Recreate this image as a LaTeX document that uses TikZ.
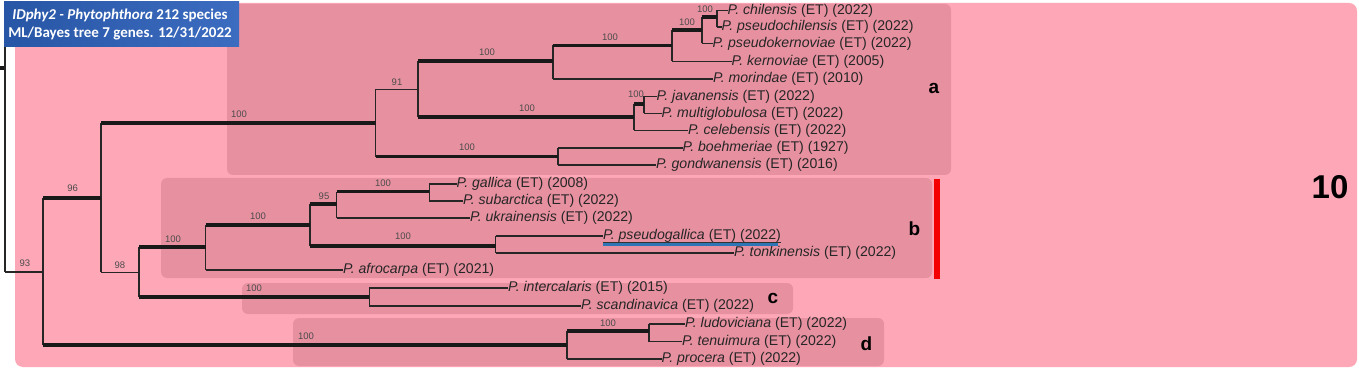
\documentclass[tikz,border=0pt]{standalone}
\usepackage{fontspec}
\setmainfont{Liberation Sans}
\newfontfamily\carl{Carlito}
\definecolor{outerpink}{RGB}{254,167,183}
\definecolor{innerpink}{RGB}{231,144,160}
\definecolor{tblueL}{RGB}{40,86,166}
\definecolor{tblueR}{RGB}{60,108,192}
\definecolor{ulblue}{RGB}{46,117,182}
\definecolor{redbar}{RGB}{245,0,0}
\newcommand{\spname}[2]{\textit{P. #1} (ET) (#2)}
\begin{document}
\begin{tikzpicture}[x=1pt,y=-1pt,
  thn/.style={line width=1.1pt, draw=black!85},
  thk/.style={line width=3.6pt, draw=black!90},
  leaf/.style={anchor=west, inner sep=0pt, font=\fontsize{14.1}{16}\selectfont, text=black!85},
  bs/.style={inner sep=0pt, font=\fontsize{9.5}{10}\selectfont, text=black!70},
  cladelab/.style={inner sep=0pt, font=\fontsize{19}{20}\selectfont\bfseries},
  cbox/.style={fill=innerpink, rounded corners=6pt}]
\useasboundingbox (0,0) rectangle (1359,371);
\fill[white] (0,0) rectangle (1359,371);
% background boxes
\fill[outerpink, rounded corners=8pt] (15,3) rectangle (1357,367);
\fill[cbox] (227,4) rectangle (951,175);
\fill[cbox] (161,178) rectangle (932,278);
\fill[cbox] (242,283) rectangle (793,314);
\fill[cbox] (293,318) rectangle (884,366);
\fill[redbar] (934,179) rectangle (940,279);

% leaves
\node[leaf] (chil)  at (727.5,10.5) {\spname{chilensis}{2022}};
\node[leaf] (pchil) at (721.5,27)   {\spname{pseudochilensis}{2022}};
\node[leaf] (pkern) at (712.5,43.5) {\spname{pseudokernoviae}{2022}};
\node[leaf] (kern)  at (731.5,61.5) {\spname{kernoviae}{2005}};
\node[leaf] (mor)   at (713,79)     {\spname{morindae}{2010}};
\node[leaf] (jav)   at (656.5,96.5) {\spname{javanensis}{2022}};
\node[leaf] (mult)  at (661.5,113.5){\spname{multiglobulosa}{2022}};
\node[leaf] (cel)   at (688,130.5)  {\spname{celebensis}{2022}};
\node[leaf] (boeh)  at (682.5,148)  {\spname{boehmeriae}{1927}};
\node[leaf] (gond)  at (656,165)    {\spname{gondwanensis}{2016}};
\node[leaf] (gall)  at (456.5,184)  {\spname{gallica}{2008}};
\node[leaf] (suba)  at (463,201)    {\spname{subarctica}{2022}};
\node[leaf] (ukr)   at (470,218)    {\spname{ukrainensis}{2022}};
\node[leaf] (pgal)  at (603,236)    {\spname{pseudogallica}{2022}};
\node[leaf] (tonk)  at (734,253)    {\spname{tonkinensis}{2022}};
\node[leaf] (afro)  at (343,270)    {\spname{afrocarpa}{2021}};
\node[leaf] (inter) at (508,288)    {\spname{intercalaris}{2015}};
\node[leaf] (scan)  at (581,306)    {\spname{scandinavica}{2022}};
\node[leaf] (ludo)  at (685,324)    {\spname{ludoviciana}{2022}};
\node[leaf] (tenu)  at (682,341.5)  {\spname{tenuimura}{2022}};
\node[leaf] (proc)  at (661.5,359)  {\spname{procera}{2022}};

% underline of pseudogallica
\draw[black!80, line width=0.8pt] ([yshift=-2.3pt]pgal.base west) -- ([yshift=-2.3pt]pgal.base east);
\draw[ulblue, line width=2.8pt] ([yshift=-5pt]pgal.base west) -- ([yshift=-5pt,xshift=-3pt]pgal.base east);

% internal nodes
\coordinate (Rin) at (0,68.3);
\coordinate (R) at (5,68.3);
\coordinate (Rtop) at (5,47);
\coordinate (N93) at (43,272);
\coordinate (N96) at (101,198);
\coordinate (Nd) at (567,345);
\coordinate (Na) at (375.5,123.3);
\coordinate (N98) at (139,272.3);
\coordinate (N91) at (418,89.3);
\coordinate (Nbg) at (558,156.7);
\coordinate (N1) at (553,61);
\coordinate (Njc) at (634,117.3);
\coordinate (N2) at (672,45.5);
\coordinate (N3) at (702,30);
\coordinate (N4) at (717,17);
\coordinate (N5) at (644,104);
\coordinate (Nb) at (205.7,247.3);
\coordinate (Nc) at (369.3,296.7);
\coordinate (N6) at (310,225);
\coordinate (N95) at (336.7,204.3);
\coordinate (N7) at (495.7,246);
\coordinate (N8) at (429.3,191.7);
\coordinate (N9) at (649,331);

% root stub
\draw[thk] (Rin) -- (R);
\draw[thn] (Rtop) -- (R |- N93);
\draw[thn] (R |- N93) -- (N93);

% vertical lines
\draw[thn] (N93 |- N96) -- (N93 |- Nd);
\draw[thn] (N96 |- Na) -- (N96 |- N98);
\draw[thn] (Na |- N91) -- (Na |- Nbg);
\draw[thn] (N91 |- N1) -- (N91 |- Njc);
\draw[thn] (N1 |- N2) -- (N1 |- mor.west);
\draw[thn] (N2 |- N3) -- (N2 |- kern.west);
\draw[thn] (N3 |- N4) -- (N3 |- pkern.west);
\draw[thn] (N4 |- chil.west) -- (N4 |- pchil.west);
\draw[thn] (Njc |- N5) -- (Njc |- cel.west);
\draw[thn] (N5 |- jav.west) -- (N5 |- mult.west);
\draw[thn] (Nbg |- boeh.west) -- (Nbg |- gond.west);
\draw[thn] (N98 |- Nb) -- (N98 |- Nc);
\draw[thn] (Nb |- N6) -- (Nb |- afro.west);
\draw[thn] (N6 |- N95) -- (N6 |- N7);
\draw[thn] (N95 |- N8) -- (N95 |- ukr.west);
\draw[thn] (N8 |- gall.west) -- (N8 |- suba.west);
\draw[thn] (N7 |- pgal.west) -- (N7 |- tonk.west);
\draw[thn] (Nc |- inter.west) -- (Nc |- scan.west);
\draw[thn] (Nd |- N9) -- (Nd |- proc.west);
\draw[thn] (N9 |- ludo.west) -- (N9 |- tenu.west);

% horizontal branches: thick (supported)
\draw[thk] (N93 |- N96) -- (N96);
\draw[thk] (N93 |- Nd) -- (Nd);
\draw[thk] (N96 |- Na) -- (Na);
\draw[thk] (Na |- Nbg) -- (Nbg);
\draw[thk] (N91 |- N1) -- (N1);
\draw[thk] (N91 |- Njc) -- (Njc);
\draw[thk] (N1 |- N2) -- (N2);
\draw[thk] (N2 |- N3) -- (N3);
\draw[thk] (N3 |- N4) -- (N4);
\draw[thk] (Njc |- N5) -- (N5);
\draw[thk] (N98 |- Nb) -- (Nb);
\draw[thk] (N98 |- Nc) -- (Nc);
\draw[thk] (Nb |- N6) -- (N6);
\draw[thk] (N6 |- N95) -- (N95);
\draw[thk] (N6 |- N7) -- (N7);
\draw[thk] (N95 |- N8) -- (N8);
\draw[thk] (Nd |- N9) -- (N9);

% horizontal branches: thin
\draw[thn] (N96 |- N98) -- (N98);
\draw[thn] (Na |- N91) -- (N91);
\draw[thn] (N1 |- mor.west) -- (mor.west);
\draw[thn] (N2 |- kern.west) -- (kern.west);
\draw[thn] (N3 |- pkern.west) -- (pkern.west);
\draw[thn] (N4 |- chil.west) -- (chil.west);
\draw[thn] (N4 |- pchil.west) -- (pchil.west);
\draw[thn] (Njc |- cel.west) -- (cel.west);
\draw[thn] (N5 |- jav.west) -- (jav.west);
\draw[thn] (N5 |- mult.west) -- (mult.west);
\draw[thn] (Nbg |- boeh.west) -- (boeh.west);
\draw[thn] (Nbg |- gond.west) -- (gond.west);
\draw[thn] (Nb |- afro.west) -- (afro.west);
\draw[thn] (N95 |- ukr.west) -- (ukr.west);
\draw[thn] (N8 |- gall.west) -- (gall.west);
\draw[thn] (N8 |- suba.west) -- (suba.west);
\draw[thn] (N7 |- pgal.west) -- (pgal.west);
\draw[thn] (N7 |- tonk.west) -- (tonk.west);
\draw[thn] (Nc |- inter.west) -- (inter.west);
\draw[thn] (Nc |- scan.west) -- (scan.west);
\draw[thn] (Nd |- proc.west) -- (proc.west);
\draw[thn] (N9 |- ludo.west) -- (ludo.west);
\draw[thn] (N9 |- tenu.west) -- (tenu.west);

% support values
\node[bs] (b93) at (25,263) {93};
\node[bs] (b96) at (72.7,188.3) {96};
\node[bs] (b98) at (120,265) {98};
\node[bs] (ba) at (239,114) {100};
\node[bs] (b91) at (397,82) {91};
\node[bs] (bn1) at (487,52) {100};
\node[bs] (bn2) at (610,37) {100};
\node[bs] (bn3) at (687,22) {100};
\node[bs] (bn4) at (705,9) {100};
\node[bs] (bjc) at (527,108) {100};
\node[bs] (bn5) at (636,94.5) {100};
\node[bs] (bbg) at (467,147) {100};
\node[bs] (bb) at (173,239) {100};
\node[bs] (bn6) at (258,216) {100};
\node[bs] (b95) at (324,196) {95};
\node[bs] (bn8) at (383,183) {100};
\node[bs] (bn7) at (403,236) {100};
\node[bs] (bc) at (254,288) {100};
\node[bs] (bd) at (306,336) {100};
\node[bs] (bn9) at (608,323) {100};

% clade letters
\node[cladelab] (la) at (934,88) {a};
\node[cladelab] (lb) at (914.5,229) {b};
\node[cladelab] (lc) at (773,298) {c};
\node[cladelab] (ld) at (866.5,344) {d};
\node[inner sep=0pt, font=\fontsize{33}{34}\selectfont\bfseries] (ten) at (1330,187) {10};

% title box
\shade[left color=tblueL, right color=tblueR] (4,2) rectangle (239,47);
\node[inner sep=0pt, align=center, text=white, font=\carl\bfseries\fontsize{15}{17.6}\selectfont] (title) at (120,24.5)
  {\textit{IDphy2 - Phytophthora} 212 species\\ML/Bayes tree 7 genes. 12/31/2022};
\end{tikzpicture}
\end{document}
